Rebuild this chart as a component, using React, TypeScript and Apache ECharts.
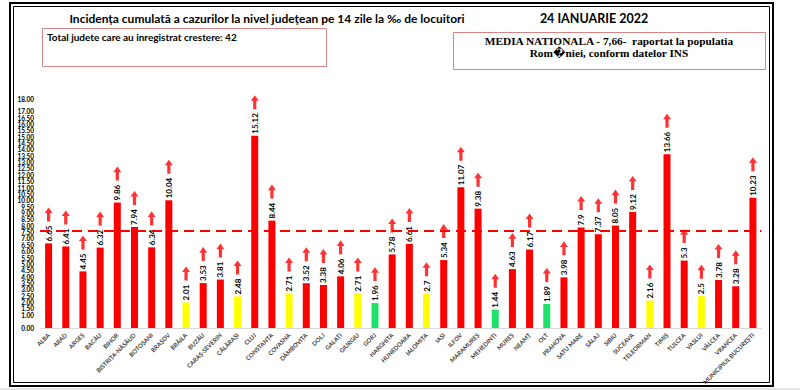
import React, { useEffect, useRef } from "react";
import * as echarts from "echarts";

const categories = [
  "ALBA", "ARAD", "ARGEȘ", "BACĂU", "BIHOR", "BISTRIȚA-NĂSĂUD", "BOTOȘANI", "BRAȘOV",
  "BRĂILA", "BUZĂU", "CARAȘ-SEVERIN", "CĂLĂRAȘI", "CLUJ", "CONSTANȚA", "COVASNA",
  "DÂMBOVIȚA", "DOLJ", "GALAȚI", "GIURGIU", "GORJ", "HARGHITA", "HUNEDOARA", "IALOMIȚA",
  "IAȘI", "ILFOV", "MARAMUREȘ", "MEHEDINȚI", "MUREȘ", "NEAMȚ", "OLT", "PRAHOVA",
  "SATU MARE", "SĂLAJ", "SIBIU", "SUCEAVA", "TELEORMAN", "TIMIȘ", "TULCEA", "VASLUI",
  "VÂLCEA", "VRANCEA", "MUNICIPIUL BUCUREȘTI",
];

const values = [
  6.65, 6.41, 4.45, 6.32, 9.86, 7.94, 6.34, 10.04,
  2.01, 3.53, 3.81, 2.48, 15.12, 8.44, 2.71,
  3.52, 3.38, 4.06, 2.71, 1.96, 5.78, 6.61, 2.7,
  5.34, 11.07, 9.38, 1.44, 4.63, 6.17, 1.89, 3.98,
  7.9, 7.37, 8.05, 9.12, 2.16, 13.66, 5.3, 2.5,
  3.78, 3.28, 10.23,
];

const nationalAverage = 7.66;
const greenLimit = 2;
const yellowLimit = 3;

const titleText = "Incidența cumulată a cazurilor la nivel județean pe 14 zile la ‰ de locuitori";
const dateText = "24 IANUARIE 2022";
const totalText = "Total judete care au inregistrat crestere: 42";
const mediaLine1 = "MEDIA NATIONALA - 7,66-  raportat la populatia";
const mediaLine2 = "Rom\uFFFDniei, conform datelor INS";

const RED = "#ff0000";
const YELLOW = "#ffff00";
const GREEN = "#1fe06a";

function barColor(v: number) {
  if (v < greenLimit) return GREEN;
  if (v < yellowLimit) return YELLOW;
  return RED;
}

function labelWidth(v: number) {
  const s = String(v);
  let w = 0;
  for (const ch of s) w += ch === "." ? 2 : 4.5;
  return w;
}

const ARROW = "path://M5,0 L10,6 L7,6 L7,15 L3,15 L3,6 L0,6 Z";

export default function App() {
  const ref = useRef<HTMLDivElement>(null);
  useEffect(() => {
    if (!ref.current) return;
    const chart = echarts.init(ref.current, null, { renderer: "svg" });
    const font = "Lato, 'Open Sans', sans-serif";
    chart.setOption({
      animation: false,
      backgroundColor: "#ffffff",
      textStyle: { fontFamily: font },
      grid: { left: 40, right: 38.5, top: 99, bottom: 62, containLabel: false },
      xAxis: {
        type: "category",
        data: categories,
        axisTick: { show: false },
        axisLine: { lineStyle: { color: "#d9d9d9", width: 1 } },
        axisLabel: {
          interval: 0,
          rotate: 45,
          fontSize: 6,
          fontWeight: "bold",
          color: "#404040",
          margin: 6,
          fontFamily: font,
        },
      },
      yAxis: {
        type: "value",
        min: 0,
        max: 18,
        interval: 0.5,
        splitLine: { show: false },
        axisLine: { show: false },
        axisTick: { show: false },
        axisLabel: {
          fontSize: 6.5,
          lineHeight: 6,
          fontWeight: "bold",
          color: "#000",
          margin: 6,
          showMinLabel: true,
          showMaxLabel: true,
          hideOverlap: false,
          fontFamily: font,
          formatter: (v: number) => v.toFixed(2),
        },
      },
      series: [
        {
          type: "bar",
          barWidth: 7,
          data: values.map((v) => ({ value: v, itemStyle: { color: barColor(v) } })),
          label: {
            show: true,
            position: "top",
            rotate: 90,
            align: "left",
            verticalAlign: "middle",
            distance: 2,
            fontSize: 8,
            fontWeight: "bold",
            color: "#000",
            fontFamily: font,
          },
          markLine: {
            silent: true,
            symbol: "none",
            label: { show: false },
            lineStyle: { color: RED, type: [10, 6], width: 2 },
            data: [{ yAxis: nationalAverage }],
            z: 5,
          },
        },
        {
          type: "scatter",
          symbol: ARROW,
          symbolSize: [8, 14],
          itemStyle: { color: RED },
          data: values.map((v, i) => ({
            value: [i, v],
            symbolOffset: [0, -(labelWidth(v) + 6.5 + 7)],
          })),
          z: 6,
        },
      ],
      graphic: [
        {
          type: "rect",
          shape: { x: 10, y: 3, width: 763, height: 383 },
          style: { fill: "none", stroke: "#000", lineWidth: 2 },
          silent: true,
        },
        {
          type: "rect",
          shape: { x: 13.5, y: 6.5, width: 756, height: 376 },
          style: { fill: "none", stroke: "#000", lineWidth: 1 },
          silent: true,
        },
        {
          type: "rect",
          shape: { x: 0, y: 388, width: 800, height: 2 },
          style: { fill: "#e6e6e6" },
          silent: true,
        },
        {
          type: "text",
          x: 267,
          y: 18,
          style: {
            text: titleText,
            fontSize: 12,
            fontWeight: "bold",
            fontFamily: font,
            fill: "#000",
            align: "center",
            verticalAlign: "middle",
          },
        },
        {
          type: "text",
          x: 594,
          y: 18,
          style: {
            text: dateText,
            fontSize: 12.5,
            fontWeight: "bold",
            fontFamily: font,
            fill: "#000",
            align: "center",
            verticalAlign: "middle",
          },
        },
        {
          type: "rect",
          shape: { x: 42.5, y: 28.5, width: 284, height: 38 },
          style: { fill: "#fff", stroke: "#d98585", lineWidth: 1 },
        },
        {
          type: "text",
          x: 47,
          y: 37,
          style: {
            text: totalText,
            fontSize: 10,
            fontWeight: "bold",
            fontFamily: font,
            fill: "#000",
            align: "left",
            verticalAlign: "middle",
          },
        },
        {
          type: "rect",
          shape: { x: 453.5, y: 32.5, width: 312, height: 37 },
          style: { fill: "#fff", stroke: "#d98585", lineWidth: 1 },
        },
        {
          type: "text",
          x: 609,
          y: 41,
          style: {
            text: mediaLine1,
            fontSize: 11.3,
            fontWeight: "bold",
            fontFamily: "'Liberation Serif', 'DejaVu Serif', serif",
            fill: "#000",
            align: "center",
            verticalAlign: "middle",
          },
        },
        {
          type: "text",
          x: 609,
          y: 53,
          style: {
            text: mediaLine2,
            fontSize: 11.3,
            fontWeight: "bold",
            fontFamily: "'Liberation Serif', 'DejaVu Serif', serif",
            fill: "#000",
            align: "center",
            verticalAlign: "middle",
          },
        },
      ],
    });
    return () => chart.dispose();
  }, []);
  return (
    <div
      ref={ref}
      style={{ position: "fixed", left: 0, top: 0, width: 800, height: 390 }}
    />
  );
}
